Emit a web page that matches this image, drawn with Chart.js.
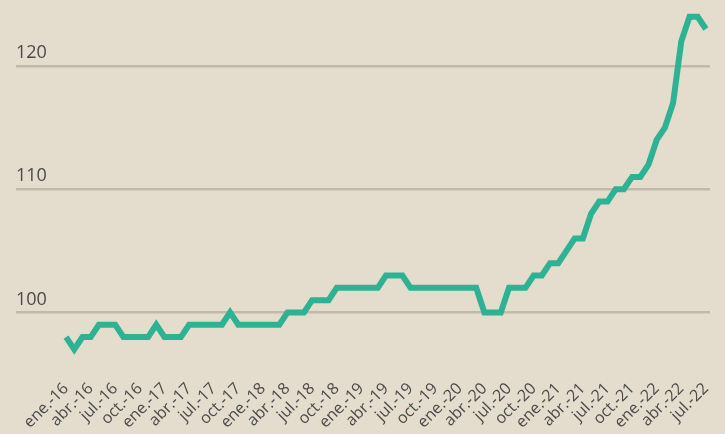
<!DOCTYPE html>
<html>
<head>
<meta charset="utf-8">
<script src="https://cdn.jsdelivr.net/npm/chart.js@4"></script>
<style>
  html, body { margin: 0; padding: 0; background: #E4DCCD; }
  #wrap { width: 725px; height: 434px; position: relative; }
</style>
</head>
<body>
<div id="wrap"><canvas id="chart"></canvas></div>
<script>
// monthly labels, ene-16 .. jul-22
const years = ['16', '17', '18', '19', '20', '21', '22'];
const monthNames = ['ene.', 'feb.', 'mar.', 'abr.', 'may.', 'jun.', 'jul.', 'ago.', 'sep.', 'oct.', 'nov.', 'dic.'];
const months = [];
years.forEach(y => monthNames.forEach(m => months.push(m + '-' + y)));
months.length = 79;

const values = [
    98, 97, 98, 98, 99, 99, 99, 98, 98, 98, 98, 99,
    98, 98, 98, 99, 99, 99, 99, 99, 100, 99, 99, 99,
    99, 99, 99, 100, 100, 100, 101, 101, 101, 102, 102, 102,
    102, 102, 102, 103, 103, 103, 102, 102, 102, 102, 102, 102,
    102, 102, 102, 100, 100, 100, 102, 102, 102, 103, 103, 104,
    104, 105, 106, 106, 108, 109, 109, 110, 110, 111, 111, 112,
    114, 115, 117, 122, 124, 124, 123
];

const yTicks = [100, 110, 120];
const xTickStep = 3;

const points = values.map((v, i) => ({ x: i, y: v }));

new Chart(document.getElementById('chart').getContext('2d'), {
    type: 'line',
    data: {
        datasets: [{
            data: points,
            borderColor: '#2DB394',
            borderWidth: 6,
            borderJoinStyle: 'miter',
            pointRadius: 0,
            tension: 0,
            fill: false
        }]
    },
    options: {
        responsive: true,
        maintainAspectRatio: false,
        animation: false,
        layout: { padding: { left: 16, right: 15, top: 0, bottom: 2 } },
        plugins: { legend: { display: false }, tooltip: { enabled: false } },
        scales: {
            x: {
                type: 'linear',
                min: -6.1,
                max: 78.5,
                grid: { display: false },
                border: { display: false },
                afterBuildTicks: scale => {
                    const t = [];
                    for (let i = 0; i < months.length; i += xTickStep) t.push({ value: i });
                    scale.ticks = t;
                },
                ticks: {
                    autoSkip: false,
                    minRotation: 45,
                    maxRotation: 45,
                    padding: 0,
                    color: '#4A4A4A',
                    font: { family: 'Open Sans', size: 16 },
                    callback: v => months[v]
                }
            },
            y: {
                min: 95.23,
                max: 124.48,
                grid: { color: '#C3B9AB', lineWidth: 2.5, drawTicks: false },
                border: { display: false },
                afterBuildTicks: scale => {
                    scale.ticks = yTicks.map(v => ({ value: v }));
                },
                ticks: {
                    mirror: true,
                    padding: 0,
                    labelOffset: -13,
                    color: '#4A4A4A',
                    font: { family: 'Open Sans', size: 18 }
                }
            }
        }
    }
});
</script>
</body>
</html>
